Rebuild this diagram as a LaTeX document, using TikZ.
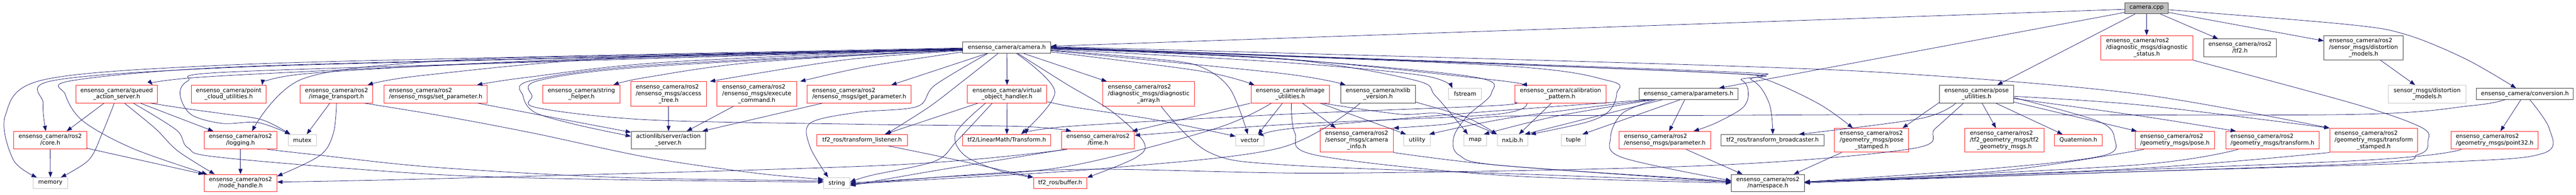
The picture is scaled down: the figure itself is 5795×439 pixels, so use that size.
\documentclass[tikz,border=0pt]{standalone}
\usepackage{fontspec}
\setmainfont{DejaVu Sans}
\usetikzlibrary{arrows.meta}
\definecolor{edgec}{HTML}{191970}
\definecolor{redb}{HTML}{FF2020}
\newcommand{\Lii}[2]{\begin{tabular}{@{}l@{}}#1\\\multicolumn{1}{@{}c@{}}{#2}\end{tabular}}
\newcommand{\Liii}[3]{\begin{tabular}{@{}l@{}}#1\\\multicolumn{1}{@{}c@{}}{#2}\\\multicolumn{1}{@{}c@{}}{#3}\end{tabular}}
\newcommand{\Nb}[7]{\pgfmathsetmacro\nbcx{(#3+#5)/2}\pgfmathsetmacro\nbcy{(#4+#6)/2}\pgfmathsetmacro\nbw{#5-#3}\pgfmathsetmacro\nbh{#6-#4}\node[#1,minimum width=\nbw pt,minimum height=\nbh pt] (#2) at (\nbcx,\nbcy) {#7};}
\newcommand{\Ed}[1]{\draw[edge] plot[smooth,tension=0.55] coordinates {#1};}
\begin{document}
\begin{tikzpicture}[x=1pt,y=-1pt,
  box/.style={rectangle,inner sep=0pt,line width=1.1pt,font=\fontsize{13pt}{15pt}\selectfont},
  rbox/.style={box,draw=redb},
  bbox/.style={box,draw=black!75},
  gbox/.style={box,draw=black!22},
  root/.style={box,draw=black!75,fill=black!25},
  edge/.style={draw=edgec,line width=0.9pt,-{Triangle[length=12pt,width=9pt]}}]
\useasboundingbox (0,0) rectangle (5795,439);
% ---------- nodes ----------
\Nb{root}{cpp}{4780}{6}{4878}{31}{camera.cpp}
\Nb{bbox}{ch}{2166}{95}{2364}{120}{ensenso\_camera/camera.h}
\Nb{rbox}{dstat}{4726}{80}{4933}{135}{\Liii{ensenso\_camera/ros2}{/diagnostic\_msgs/diagnostic}{\_status.h}}
\Nb{bbox}{tf2h}{4957}{88}{5121}{128}{\Lii{ensenso\_camera/ros2}{/tf2.h}}
\Nb{bbox}{dros2}{5228}{80}{5406}{135}{\Liii{ensenso\_camera/ros2}{/sensor\_msgs/distortion}{\_models.h}}
\Nb{rbox}{qas}{171}{192}{354}{232}{\Lii{ensenso\_camera/queued}{\_action\_server.h}}
\Nb{rbox}{pcu}{430}{192}{599}{232}{\Lii{ensenso\_camera/point}{\_cloud\_utilities.h}}
\Nb{rbox}{imgtr}{675}{192}{839}{232}{\Lii{ensenso\_camera/ros2}{/image\_transport.h}}
\Nb{rbox}{setp}{864}{192}{1096}{232}{\Lii{ensenso\_camera/ros2}{/ensenso\_msgs/set\_parameter.h}}
\Nb{rbox}{strh}{1221}{192}{1395}{232}{\Lii{ensenso\_camera/string}{\_helper.h}}
\Nb{rbox}{acct}{1419}{184}{1589}{239}{\Liii{ensenso\_camera/ros2}{/ensenso\_msgs/access}{\_tree.h}}
\Nb{rbox}{exec}{1613}{184}{1792}{239}{\Liii{ensenso\_camera/ros2}{/ensenso\_msgs/execute}{\_command.h}}
\Nb{rbox}{getp}{1816}{192}{2050}{232}{\Lii{ensenso\_camera/ros2}{/ensenso\_msgs/get\_parameter.h}}
\Nb{rbox}{voh}{2176}{192}{2355}{232}{\Lii{ensenso\_camera/virtual}{\_object\_handler.h}}
\Nb{rbox}{diagarr}{2481}{184}{2687}{239}{\Liii{ensenso\_camera/ros2}{/diagnostic\_msgs/diagnostic}{\_array.h}}
\Nb{rbox}{imgu}{2814}{192}{2991}{232}{\Lii{ensenso\_camera/image}{\_utilities.h}}
\Nb{bbox}{nxver}{3016}{192}{3184}{232}{\Lii{ensenso\_camera/nxlib}{\_version.h}}
\Nb{gbox}{fstream}{3259}{199}{3333}{224}{fstream}
\Nb{rbox}{calib}{3408}{192}{3613}{232}{\Lii{ensenso\_camera/calibration}{\_pattern.h}}
\Nb{bbox}{params}{3687}{199}{3910}{224}{ensenso\_camera/parameters.h}
\Nb{bbox}{poseu}{4363}{192}{4530}{232}{\Lii{ensenso\_camera/pose}{\_utilities.h}}
\Nb{gbox}{sdist}{5373}{192}{5547}{232}{\Lii{sensor\_msgs/distortion}{\_models.h}}
\Nb{bbox}{conv}{5571}{199}{5789}{224}{ensenso\_camera/conversion.h}
\Nb{rbox}{core}{31}{296}{195}{336}{\Lii{ensenso\_camera/ros2}{/core.h}}
\Nb{rbox}{logging}{459}{296}{623}{336}{\Lii{ensenso\_camera/ros2}{/logging.h}}
\Nb{gbox}{mutex}{648}{303}{712}{328}{mutex}
\Nb{bbox}{actsrv}{1420}{296}{1587}{336}{\Lii{actionlib/server/action}{\_server.h}}
\Nb{rbox}{tfl}{1838}{303}{2041}{328}{tf2\_ros/transform\_listener.h}
\Nb{rbox}{lmt}{2166}{303}{2364}{328}{tf2/LinearMath/Transform.h}
\Nb{rbox}{time}{2388}{296}{2552}{336}{\Lii{ensenso\_camera/ros2}{/time.h}}
\Nb{gbox}{vector}{2780}{303}{2843}{328}{vector}
\Nb{rbox}{caminfo}{2970}{289}{3134}{343}{\Liii{ensenso\_camera/ros2}{/sensor\_msgs/camera}{\_info.h}}
\Nb{gbox}{utility}{3158}{303}{3218}{328}{utility}
\Nb{gbox}{map}{3293}{303}{3344}{328}{map}
\Nb{gbox}{nxlib}{3368}{303}{3437}{328}{nxLib.h}
\Nb{gbox}{tuple}{3512}{303}{3567}{328}{tuple}
\Nb{rbox}{ensparam}{3642}{296}{3848}{336}{\Lii{ensenso\_camera/ros2}{/ensenso\_msgs/parameter.h}}
\Nb{bbox}{tfb}{3872}{303}{4103}{328}{tf2\_ros/transform\_broadcaster.h}
\Nb{rbox}{posest}{4127}{289}{4294}{343}{\Liii{ensenso\_camera/ros2}{/geometry\_msgs/pose}{\_stamped.h}}
\Nb{rbox}{tf2gm}{4420}{289}{4598}{343}{\Liii{ensenso\_camera/ros2}{/tf2\_geometry\_msgs/tf2}{\_geometry\_msgs.h}}
\Nb{rbox}{quat}{4622}{303}{4729}{328}{Quaternion.h}
\Nb{rbox}{gpose}{4803}{296}{4982}{336}{\Lii{ensenso\_camera/ros2}{/geometry\_msgs/pose.h}}
\Nb{rbox}{gtrans}{5007}{296}{5217}{336}{\Lii{ensenso\_camera/ros2}{/geometry\_msgs/transform.h}}
\Nb{rbox}{tfst}{5241}{289}{5439}{343}{\Liii{ensenso\_camera/ros2}{/geometry\_msgs/transform}{\_stamped.h}}
\Nb{rbox}{p32}{5514}{296}{5710}{336}{\Lii{ensenso\_camera/ros2}{/geometry\_msgs/point32.h}}
\Nb{gbox}{memory}{75}{400}{152}{425}{memory}
\Nb{rbox}{nh}{459}{393}{623}{432}{\Lii{ensenso\_camera/ros2}{/node\_handle.h}}
\Nb{gbox}{string}{1853}{400}{1912}{425}{string}
\Nb{rbox}{buffer}{2325}{400}{2445}{425}{tf2\_ros/buffer.h}
\Nb{bbox}{ns}{3895}{393}{4059}{432}{\Lii{ensenso\_camera/ros2}{/namespace.h}}
% ---------- edges: camera.cpp ----------
\Ed{(cpp.west|-0,21) (ch.east|-0,104)}
\Ed{(cpp.west|-0,28) (params.north-|3867,0)}
\Ed{(cpp.south-|4803,0) (poseu.north-|4493,0)}
\Ed{(cpp.south-|4829,0) (dstat.north-|4829,0)}
\Ed{(cpp.south-|4860,0) (tf2h.north-|4990,0)}
\Ed{(cpp.east|-0,28) (dros2.west|-0,92)}
\Ed{(cpp.east|-0,22) (5280,55) (5413,78) (5547,133) (conv.north-|5660,0)}
% ---------- camera.h -> first row ----------
\Ed{(ch.west|-0,112) (1300,135) (480,172) (qas.north-|343,0)}
\Ed{(ch.west|-0,111) (1300,133) (700,165) (pcu.north-|590,0)}
\Ed{(ch.west|-0,110) (1400,130) (950,170) (imgtr.north-|827,0)}
\Ed{(ch.west|-0,110) (1500,140) (1180,175) (setp.north-|1073,0)}
\Ed{(ch.west|-0,112) (1700,140) (1450,175) (strh.north-|1380,0)}
\Ed{(ch.west|-0,114) (1900,135) (acct.north-|1597,0)}
\Ed{(ch.west|-0,117) (1950,150) (exec.north-|1800,0)}
\Ed{(ch.south-|2220,0) (getp.north-|2005,0)}
\Ed{(ch.south) (voh.north)}
\Ed{(ch.south-|2303,0) (diagarr.north-|2490,0)}
\Ed{(ch.east|-0,117) (2700,160) (imgu.north-|2822,0)}
\Ed{(ch.east|-0,114) (2880,165) (nxver.north-|3027,0)}
\Ed{(ch.east|-0,111) (2880,140) (3200,170) (fstream.north-|3267,0)}
\Ed{(ch.east|-0,109) (2880,132) (3360,180) (calib.north-|3423,0)}
% ---------- camera.h -> others ----------
\Ed{(ch.west|-0,110) (1200,133) (500,153) (117,182) (97,233) (core.north-|103,0)}
\Ed{(ch.west|-0,108) (1200,128) (500,147) (97,180) (12,260) (30,360) (memory.north-|83,0)}
\Ed{(ch.west|-0,109) (1200,132) (500,152) (160,182) (147,213) (187,273) (300,335) (nh.north-|466,0)}
\Ed{(ch.west|-0,110) (1400,125) (980,138) (680,178) (logging.north-|567,0)}
\Ed{(ch.west|-0,111) (1200,140) (500,163) (423,182) (405,213) (430,258) (500,278) (580,276) (mutex.north-|653,0)}
\Ed{(ch.west|-0,112) (1460,147) (1193,182) (1177,217) (1203,253) (1293,280) (actsrv.west|-0,307)}
\Ed{(ch.west|-0,113) (1460,150) (1210,182) (1197,217) (1210,243) (1460,270) (1940,280) (2300,285) (time.north-|2410,0)}
\Ed{(ch.south-|2245,0) (2153,193) (2087,243) (tfl.north-|1993,0)}
\Ed{(ch.south-|2222,0) (2103,192) (2063,240) (1930,253) (1823,277) (1822,330) (string.north-|1863,0)}
\Ed{(ch.south-|2287,0) (2373,207) (lmt.north-|2297,0)}
\Ed{(ch.south-|2290,0) (2400,190) (2500,250) (2573,320) (2555,355) (buffer.east|-0,400)}
\Ed{(ch.east|-0,113) (2600,133) (2700,150) (2767,200) (vector.north-|2807,0)}
\Ed{(ch.east|-0,110) (2880,132) (3180,180) (3230,217) (map.north-|3302,0)}
\Ed{(ch.east|-0,108) (3360,147) (3620,182) (3637,210) (3620,250) (3570,275) (nxlib.north-|3443,0)}
\Ed{(ch.east|-0,109) (2880,133) (3313,173) (3355,210) (3300,262) (3270,310) (3283,350) (3380,373) (ns.west|-0,408)}
\Ed{(ch.east|-0,107) (3840,163) (3940,180) (3980,233) (tfb.north-|3988,0)}
\Ed{(ch.east|-0,107) (3840,160) (3960,175) (4090,233) (posest.north-|4168,0)}
\Ed{(ch.east|-0,106) (3840,163) (3917,180) (3933,210) (3920,243) (3860,277) (ensparam.north-|3810,0)}
\Ed{(ch.east|-0,105) (3840,147) (4340,170) (4820,213) (tfst.north west)}
% ---------- queued action server ----------
\Ed{(qas.south-|234,0) (core.north-|150,0)}
\Ed{(qas.south-|257,0) (230,300) (200,360) (memory.north-|137,0)}
\Ed{(qas.south-|316,0) (logging.north-|480,0)}
\Ed{(qas.south-|339,0) (420,245) (500,256) (590,270) (mutex.north-|653,0)}
\Ed{(qas.south-|280,0) (350,290) (400,340) (nh.north-|483,0)}
\Ed{(qas.south-|300,0) (397,293) (423,333) (500,355) (980,393) (1400,405) (string.west|-0,410)}
% ---------- second row sources ----------
\Ed{(core.south) (memory.north)}
\Ed{(core.east|-0,334) (nh.north west)}
\Ed{(logging.south) (nh.north)}
\Ed{(logging.south-|602,0) (722,350) (980,377) (1400,400) (string.west|-0,407)}
\Ed{(imgtr.south-|742,0) (mutex.north-|690,0)}
\Ed{(imgtr.south-|757,0) (750,300) (720,350) (nh.east|-0,397)}
\Ed{(imgtr.south-|820,0) (1000,262) (1200,300) (1460,355) (1700,390) (string.west|-0,404)}
\Ed{(setp.south-|1075,0) (actsrv.west|-0,298)}
\Ed{(acct.south) (actsrv.north-|1504,0)}
\Ed{(exec.south-|1650,0) (actsrv.north-|1545,0)}
\Ed{(getp.south-|1850,0) (actsrv.north-|1580,0)}
\Ed{(voh.south-|2200,0) (tfl.north-|1990,0)}
\Ed{(voh.south) (lmt.north)}
\Ed{(voh.south-|2217,0) (2150,300) (2170,350) (2250,385) (buffer.north west)}
\Ed{(voh.south-|2232,0) (2153,317) (2103,363) (1960,395) (string.east|-0,410)}
\Ed{(voh.east|-0,229) (2420,242) (2600,270) (vector.west|-0,307)}
\Ed{(tfl.south-|1998,0) (2150,360) (buffer.north west)}
\Ed{(diagarr.south-|2612,0) (2720,343) (2900,372) (3500,395) (ns.west|-0,410)}
\Ed{(imgu.south-|2813,0) (time.north-|2547,0)}
\Ed{(imgu.south-|2860,0) (2733,290) (2400,375) (2100,400) (string.east|-0,412)}
\Ed{(imgu.south-|2885,0) (vector.north-|2830,0)}
\Ed{(imgu.south-|2930,0) (caminfo.north-|3005,0)}
\Ed{(imgu.south-|2970,0) (utility.north-|3163,0)}
\Ed{(imgu.south-|2975,0) (3147,257) (3247,257) (nxlib.north west)}
\Ed{(imgu.south-|2905,0) (2913,300) (2963,350) (3380,395) (ns.west|-0,412)}
\Ed{(nxver.east|-0,230) (3300,265) (nxlib.north west)}
\Ed{(nxver.south-|3060,0) (2880,333) (2500,378) (2100,404) (string.east|-0,414)}
\Ed{(calib.south-|3490,0) (nxlib.north-|3417,0)}
\Ed{(calib.west|-0,230) (3360,238) (2900,257) (2400,285) (lmt.north-|2308,0)}
\Ed{(calib.south-|3435,0) (3360,258) (2900,280) (time.east|-0,305)}
\Ed{(caminfo.south east) (3380,373) (ns.west|-0,410)}
\Ed{(params.south-|3740,0) (nxlib.north-|3430,0)}
\Ed{(params.south-|3780,0) (tuple.north-|3560,0)}
\Ed{(params.south-|3790,0) (ensparam.north-|3755,0)}
\Ed{(params.south-|3720,0) (3500,262) (map.north-|3338,0)}
\Ed{(params.south-|3715,0) (3400,265) (utility.north-|3215,0)}
\Ed{(params.south-|3710,0) (3300,255) (2900,290) (vector.east|-0,307)}
\Ed{(params.south-|3725,0) (3650,255) (3623,310) (3650,355) (ns.west|-0,407)}
\Ed{(ensparam.south-|3793,0) (ns.north-|3920,0)}
\Ed{(posest.south-|4143,0) (ns.north-|4035,0)}
% ---------- pose utilities ----------
\Ed{(poseu.south-|4459,0) (tf2gm.north-|4490,0)}
\Ed{(poseu.south-|4490,0) (quat.north-|4640,0)}
\Ed{(poseu.east|-0,230) (gpose.north-|4807,0)}
\Ed{(poseu.east|-0,222) (4820,262) (gtrans.north-|5030,0)}
\Ed{(poseu.east|-0,217) (4820,237) (tfst.north west)}
\Ed{(poseu.east|-0,220) (4720,273) (4757,313) (4733,350) (4500,378) (ns.east|-0,410)}
\Ed{(poseu.south-|4400,0) (4320,267) (tfb.north-|4047,0)}
\Ed{(poseu.west|-0,231) (posest.north-|4280,0)}
\Ed{(poseu.south-|4417,0) (4353,290) (4300,335) (3840,373) (3000,390) (2400,382) (string.east|-0,416)}
% ---------- right part ----------
\Ed{(dros2.south-|5355,0) (sdist.north-|5433,0)}
\Ed{(conv.south-|5671,0) (p32.north-|5625,0)}
\Ed{(conv.south-|5691,0) (5735,290) (5722,345) (5500,365) (4700,390) (ns.east|-0,412)}
\Ed{(conv.south-|5635,0) (5560,238) (5280,258) (4320,258) (3840,260) (3380,262) (3250,280) (caminfo.north east)}
\Ed{(p32.south-|5537,0) (5280,363) (ns.east|-0,410)}
\Ed{(tfst.south west) (4800,380) (ns.east|-0,410)}
\Ed{(gtrans.south-|5035,0) (4800,372) (ns.east|-0,410)}
\Ed{(gpose.south-|4823,0) (4500,385) (ns.east|-0,410)}
\Ed{(dstat.south east) (5300,235) (5447,287) (5462,317) (5440,348) (5280,370) (ns.east|-0,410)}
\Ed{(time.south-|2400,0) (2000,372) (1000,402) (nh.east|-0,410)}
\Ed{(time.south-|2395,0) (2100,385) (string.east|-0,418)}
\end{tikzpicture}
\end{document}
